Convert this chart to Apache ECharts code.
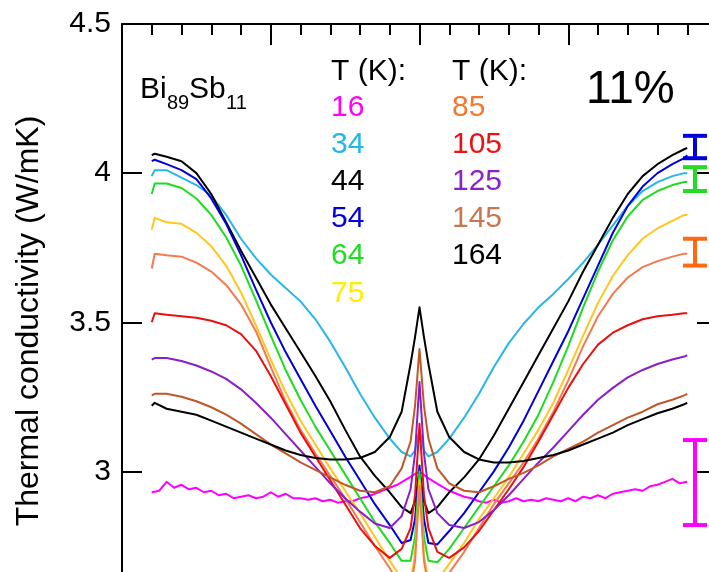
<!DOCTYPE html>
<html>
<head>
<meta charset="utf-8">
<script src="https://cdn.jsdelivr.net/npm/echarts@6/dist/echarts.min.js"></script>
<style>
  html, body { margin: 0; padding: 0; background: #fff; }
  #chart { width: 709px; height: 572px; }
</style>
</head>
<body>
<div id="chart"></div>
<script>
// magnetic field (T)
const fieldT = [-9, -8.9, -8.5, -8, -7.5, -7, -6.5, -6, -5.5, -5, -4.5, -4, -3.5, -3, -2.5, -2, -1.5, -1, -0.6, -0.3, -0.15,
  0,
  0.15, 0.3, 0.6, 1, 1.5, 2, 2.5, 3, 3.5, 4, 4.5, 5, 5.5, 6, 6.5, 7, 7.5, 8, 8.5, 8.9, 9];

// 16 K is noisy, read on a finer field grid
const field16 = [-9, -8.75, -8.5, -8.25, -8, -7.75, -7.5, -7.25, -7, -6.75, -6.5, -6.25, -6, -5.75, -5.5, -5.25,
  -5, -4.75, -4.5, -4.25, -4, -3.75, -3.5, -3.25, -3, -2.75, -2.5, -2.25, -2, -1.75, -1.5, -1.25,
  -1, -0.75, -0.5, -0.25, 0, 0.25, 0.5, 0.75, 1, 1.25, 1.5, 1.75, 2, 2.25, 2.5, 2.75,
  3, 3.25, 3.5, 3.75, 4, 4.25, 4.5, 4.75, 5, 5.25, 5.5, 5.75, 6, 6.25, 6.5, 6.75,
  7, 7.25, 7.5, 7.75, 8, 8.25, 8.5, 8.75, 9];
const k16 = [2.93, 2.935, 2.965, 2.945, 2.955, 2.94, 2.945, 2.93, 2.935, 2.92, 2.925, 2.91, 2.915, 2.92, 2.91, 2.915,
  2.93, 2.915, 2.925, 2.91, 2.91, 2.905, 2.91, 2.9, 2.905, 2.895, 2.9, 2.9, 2.91, 2.915, 2.925, 2.935,
  2.945, 2.955, 2.97, 2.985, 3.0, 2.98, 2.965, 2.95, 2.935, 2.925, 2.915, 2.91, 2.9, 2.895, 2.905, 2.895,
  2.9, 2.91, 2.9, 2.905, 2.9, 2.91, 2.905, 2.9, 2.91, 2.9, 2.915, 2.91, 2.92, 2.91, 2.925, 2.93,
  2.935, 2.94, 2.935, 2.95, 2.955, 2.965, 2.975, 2.96, 2.965];

// thermal conductivity (W/mK) per temperature
const k34 = [3.99, 4.01, 4.01, 3.985, 3.96, 3.925, 3.86, 3.78, 3.715, 3.66, 3.615, 3.57, 3.51, 3.435, 3.35, 3.26, 3.18, 3.11, 3.065, 3.05, 3.07,
  3.14,
  3.07, 3.05, 3.065, 3.11, 3.18, 3.26, 3.35, 3.43, 3.495, 3.55, 3.595, 3.645, 3.70, 3.76, 3.825, 3.89, 3.94, 3.97, 3.99, 4.0, 4.0];
const k44 = [4.06, 4.065, 4.055, 4.04, 4.0, 3.93, 3.835, 3.74, 3.65, 3.56, 3.48, 3.40, 3.32, 3.235, 3.14, 3.05, 2.985, 2.93, 2.88, 2.86, 2.90,
  3.0,
  2.90, 2.86, 2.88, 2.93, 2.98, 3.04, 3.12, 3.21, 3.30, 3.39, 3.48, 3.57, 3.67, 3.76, 3.85, 3.93, 3.99, 4.03, 4.06, 4.08, 4.085];
const k54 = [4.04, 4.045, 4.03, 4.01, 3.98, 3.915, 3.83, 3.725, 3.61, 3.50, 3.40, 3.31, 3.22, 3.135, 3.05, 2.97, 2.89, 2.82, 2.76, 2.77, 2.84,
  3.02,
  2.84, 2.76, 2.755, 2.80, 2.86, 2.93, 3.00, 3.08, 3.17, 3.27, 3.37, 3.47, 3.58, 3.69, 3.80, 3.89, 3.955, 4.0, 4.03, 4.05, 4.06];
const k64 = [3.93, 3.965, 3.965, 3.95, 3.915, 3.86, 3.785, 3.69, 3.575, 3.455, 3.34, 3.24, 3.15, 3.07, 2.99, 2.91, 2.83, 2.76, 2.70, 2.70, 2.78,
  3.0,
  2.78, 2.70, 2.695, 2.74, 2.81, 2.88, 2.95, 3.02, 3.10, 3.19, 3.30, 3.42, 3.55, 3.67, 3.775, 3.855, 3.91, 3.94, 3.96, 3.97, 3.97];
const k75 = [3.81, 3.85, 3.835, 3.83, 3.80, 3.755, 3.69, 3.60, 3.49, 3.375, 3.265, 3.17, 3.09, 3.01, 2.935, 2.86, 2.78, 2.70, 2.64, 2.63, 2.72,
  2.97,
  2.72, 2.63, 2.635, 2.69, 2.76, 2.84, 2.91, 2.98, 3.06, 3.14, 3.23, 3.34, 3.455, 3.565, 3.655, 3.725, 3.78, 3.815, 3.84, 3.86, 3.86];
const k85 = [3.68, 3.73, 3.725, 3.72, 3.70, 3.67, 3.625, 3.56, 3.47, 3.35, 3.235, 3.14, 3.06, 2.985, 2.91, 2.83, 2.75, 2.675, 2.61, 2.605, 2.70,
  2.95,
  2.70, 2.61, 2.605, 2.66, 2.73, 2.81, 2.89, 2.96, 3.03, 3.11, 3.20, 3.305, 3.42, 3.52, 3.595, 3.65, 3.685, 3.705, 3.72, 3.73, 3.73];
const k105 = [3.50, 3.53, 3.525, 3.52, 3.515, 3.505, 3.49, 3.46, 3.405, 3.32, 3.225, 3.13, 3.05, 2.97, 2.89, 2.81, 2.75, 2.71, 2.74, 2.81, 2.92,
  3.16,
  2.92, 2.81, 2.73, 2.71, 2.745, 2.80, 2.87, 2.94, 3.015, 3.10, 3.19, 3.28, 3.36, 3.425, 3.465, 3.49, 3.51, 3.52, 3.525, 3.53, 3.53];
const k125 = [3.375, 3.38, 3.38, 3.37, 3.355, 3.335, 3.31, 3.275, 3.23, 3.18, 3.125, 3.07, 3.015, 2.96, 2.91, 2.865, 2.825, 2.81, 2.85, 2.94, 3.06,
  3.30,
  3.06, 2.94, 2.86, 2.82, 2.81, 2.83, 2.87, 2.92, 2.975, 3.03, 3.08, 3.135, 3.19, 3.24, 3.28, 3.315, 3.34, 3.36, 3.375, 3.385, 3.39];
const k145 = [3.255, 3.26, 3.26, 3.25, 3.235, 3.215, 3.19, 3.16, 3.125, 3.09, 3.06, 3.03, 3.005, 2.98, 2.955, 2.935, 2.93, 2.95, 3.01, 3.10, 3.22,
  3.41,
  3.22, 3.11, 3.01, 2.96, 2.935, 2.93, 2.95, 2.975, 2.995, 3.02, 3.05, 3.075, 3.10, 3.13, 3.155, 3.18, 3.20, 3.225, 3.24, 3.255, 3.26];
const k164 = [3.22, 3.23, 3.21, 3.20, 3.19, 3.17, 3.15, 3.13, 3.11, 3.09, 3.07, 3.055, 3.045, 3.04, 3.04, 3.045, 3.065, 3.115, 3.20, 3.36, 3.45,
  3.55,
  3.45, 3.36, 3.20, 3.115, 3.065, 3.04, 3.03, 3.03, 3.035, 3.045, 3.055, 3.07, 3.09, 3.11, 3.13, 3.155, 3.175, 3.195, 3.21, 3.225, 3.23];

const temps = ['16', '34', '44', '54', '64', '75', '85', '105', '125', '145', '164'];
const curves = [k16, k34, k44, k54, k64, k75, k85, k105, k125, k145, k164];

// error bars on the right
const barField = [9.26, 9.26, 9.26, 9.26];
const barLow = [4.05, 3.94, 3.69, 2.82];
const barHigh = [4.125, 4.02, 3.78, 3.105];

const yTicks = [3, 3.5, 4, 4.5];

// styles
const lineColors = ['#ff00ff', '#28b6e8', '#000000', '#0000dd', '#1edc1e', '#ffc61e',
  '#f27a4e', '#e81010', '#8a1fc8', '#c0562a', '#000000'];
const textColors = ['#ff00ff', '#22b8ea', '#000000', '#0000dd', '#22dd22', '#ffee00',
  '#f07a30', '#ee1111', '#8a22c8', '#c87850', '#000000'];
const barColors = ['#0000dd', '#22dd22', '#ff6a10', '#ff00ff'];
const FONT = '"Liberation Sans", Arial, sans-serif';

const chart = echarts.init(document.getElementById('chart'));

const lineSeries = curves.map((vals, i) => {
  const xs = i === 0 ? field16 : fieldT;
  return {
    type: 'line',
    name: temps[i] + ' K',
    data: xs.map((b, j) => [b, vals[j]]),
    showSymbol: false,
    smooth: false,
    lineStyle: { width: 2, color: lineColors[i], join: 'round' },
    silent: true
  };
});

const barSeries = {
  type: 'custom',
  data: barField.map((b, i) => [b, barLow[i], barHigh[i]]),
  renderItem: (params, api) => {
    const lo = api.coord([api.value(0), api.value(1)]);
    const hi = api.coord([api.value(0), api.value(2)]);
    const c = barColors[params.dataIndex];
    const st = { stroke: c, lineWidth: 4 };
    return {
      type: 'group',
      children: [
        { type: 'line', shape: { x1: lo[0], y1: lo[1], x2: hi[0], y2: hi[1] }, style: st },
        { type: 'line', shape: { x1: lo[0] - 12, y1: lo[1], x2: lo[0] + 12, y2: lo[1] }, style: st },
        { type: 'line', shape: { x1: hi[0] - 12, y1: hi[1], x2: hi[0] + 12, y2: hi[1] }, style: st }
      ]
    };
  }
};

// legend-like text columns
const rowsY = [108, 145, 182, 219, 256, 294];
const texts = [];
function txt(s, x, y, color, size, align) {
  texts.push({
    type: 'text', x: x, y: y, silent: true,
    style: { text: s, fill: color, font: size + 'px ' + FONT, align: align || 'left', verticalAlign: 'middle' }
  });
}
txt('T (K):', 331, 72, '#000', 30);
txt('T (K):', 452, 72, '#000', 30);
temps.forEach((t, i) => {
  if (i < 6) txt(t, 331, rowsY[i], textColors[i], 30);
  else txt(t, 452, rowsY[i - 6], textColors[i], 30);
});
txt('Bi', 140, 90, '#000', 30);
txt('89', 167, 103, '#000', 20);
txt('Sb', 189, 90, '#000', 30);
txt('11', 226, 103, '#000', 20);
txt('11%', 586, 90, '#000', 46);
texts.push({
  type: 'text', x: 29, y: 321, rotation: Math.PI / 2, silent: true,
  style: { text: 'Thermal conductivity (W/mK)', fill: '#000', font: '32px ' + FONT, align: 'center', verticalAlign: 'middle' }
});

const axisLine = { show: true, onZero: false, lineStyle: { color: '#000', width: 2 } };

chart.setOption({
  animation: false,
  backgroundColor: '#fff',
  grid: { left: 122, top: 24, right: -8, bottom: -48.5, containLabel: false, outerBoundsMode: 'none' },
  xAxis: [{
    type: 'value', position: 'top', min: -10, max: 10, interval: 5,
    axisLine: axisLine,
    axisTick: { show: true, inside: true, length: 21, lineStyle: { color: '#000', width: 2 } },
    minorTick: { show: true, splitNumber: 5, length: 11, lineStyle: { color: '#000', width: 2 } },
    axisLabel: { show: false },
    splitLine: { show: false }
  }],
  yAxis: [{
    type: 'value', position: 'left', min: 2.5, max: 4.5, interval: 0.5,
    axisLine: axisLine,
    axisTick: { show: true, inside: true, length: 20, lineStyle: { color: '#000', width: 2 } },
    axisLabel: {
      margin: 11, color: '#000', fontSize: 30, fontFamily: FONT,
      formatter: v => (yTicks.indexOf(v) >= 0 ? String(v) : '')
    },
    splitLine: { show: false }
  }, {
    type: 'value', position: 'right', min: 2.5, max: 4.5, interval: 0.5,
    axisLine: axisLine,
    axisTick: { show: true, inside: true, length: 20, lineStyle: { color: '#000', width: 2 } },
    axisLabel: { show: false },
    splitLine: { show: false }
  }],
  series: lineSeries.concat([barSeries]),
  graphic: texts
});
</script>
</body>
</html>
